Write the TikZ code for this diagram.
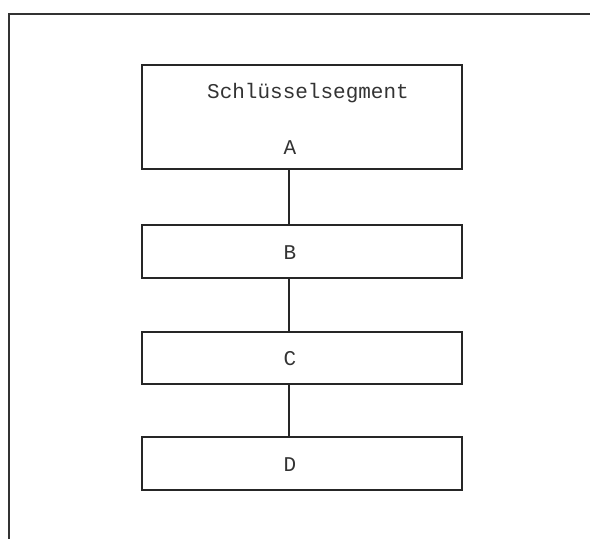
\documentclass[tikz,border=0pt]{standalone}
\usepackage{fontspec}
\setmonofont{Liberation Mono}
\begin{document}
\begin{tikzpicture}[x=1pt,y=-1pt,
  boxstyle/.style={draw=black!85, line width=1.2pt, minimum width=320pt, inner sep=0pt, outer sep=0pt},
  txt/.style={font=\ttfamily\fontsize{21}{24}\selectfont, text=black!80, inner sep=0pt},
  conn/.style={draw=black!85, line width=1.2pt},
  frame/.style={draw=black!80, line width=1.3pt}]
\useasboundingbox (0,0) rectangle (590,539);
\coordinate (fa) at (9,539);
\coordinate (fb) at (9,14);
\coordinate (fc) at (590,14);
\draw[frame] (fa) -- (fb) -- (fc);
\node[boxstyle, minimum height=104pt] (A) at (302,117) {};
\node[boxstyle, minimum height=53pt] (B) at (302,251.5) {};
\node[boxstyle, minimum height=52pt] (C) at (302,358) {};
\node[boxstyle, minimum height=53pt] (D) at (302,463.5) {};
\node[txt] (t0) at (308,93) {Schlüsselsegment};
\node[txt] (tA) at (290,148) {A};
\node[txt] (tB) at (290,253) {B};
\node[txt] (tC) at (290,359) {C};
\node[txt] (tD) at (290,465) {D};
\coordinate (lx) at (289,0);
\draw[conn] (A.south -| lx) -- (B.north -| lx);
\draw[conn] (B.south -| lx) -- (C.north -| lx);
\draw[conn] (C.south -| lx) -- (D.north -| lx);
\end{tikzpicture}
\end{document}
